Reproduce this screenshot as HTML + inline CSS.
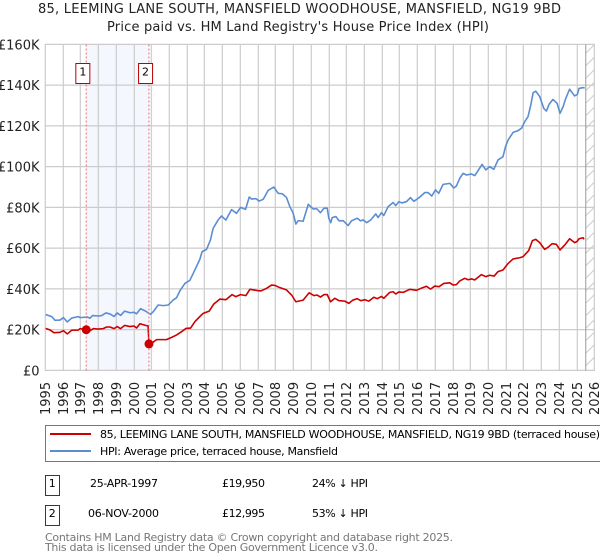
<!DOCTYPE html>
<html>
<head>
<meta charset="utf-8">
<style>
html,body{margin:0;padding:0;background:#fff;width:600px;height:560px;overflow:hidden}
svg{display:block;font-family:"DejaVu Sans","Liberation Sans",sans-serif}
</style>
</head>
<body>
<svg id="chart" xmlns="http://www.w3.org/2000/svg" width="600" height="560" viewBox="0 0 600 560">
  <defs>
    <pattern id="hatch" patternUnits="userSpaceOnUse" x="585.5" y="44.5" width="9" height="12.5">
      <line x1="0" y1="9" x2="9" y2="0" stroke="#cccccc" stroke-width="1"/>
    </pattern>
  </defs>
  <rect x="0" y="0" width="600" height="560" fill="#ffffff"/>
  <text x="38" y="13" font-size="13" fill="#222" textLength="523" lengthAdjust="spacing">85, LEEMING LANE SOUTH, MANSFIELD WOODHOUSE, MANSFIELD, NG19 9BD</text>
  <text x="107" y="31" font-size="13" fill="#222" textLength="382" lengthAdjust="spacing">Price paid vs. HM Land Registry's House Price Index (HPI)</text>
  <g id="layer-shade"></g>
  <g id="layer-grid"></g>
  <g id="layer-lines"></g>
  <g id="layer-markers"></g>
  <g id="layer-labels"></g>

  <g>
    <rect x="45.5" y="425.5" width="560" height="36" fill="#ffffff" stroke="#777777" stroke-width="1"/>
    <line x1="50" y1="434" x2="91" y2="434" stroke="#cc0000" stroke-width="2"/>
    <text x="100" y="438" font-size="11" fill="#000" textLength="500" lengthAdjust="spacing">85, LEEMING LANE SOUTH, MANSFIELD WOODHOUSE, MANSFIELD, NG19 9BD (terraced house)</text>
    <line x1="50" y1="451" x2="91" y2="451" stroke="#5b8dd3" stroke-width="2"/>
    <text x="100" y="455" font-size="11" fill="#000" textLength="238" lengthAdjust="spacing">HPI: Average price, terraced house, Mansfield</text>
  </g>

  <g>
    <rect x="45.5" y="475.5" width="14" height="20" fill="#fff" stroke="#bb0000" stroke-width="1"/>
    <text x="52.3" y="487" font-size="11" text-anchor="middle" fill="#000">1</text>
    <text x="90" y="487" font-size="11" fill="#000" textLength="68" lengthAdjust="spacing">25-APR-1997</text>
    <text x="222" y="487" font-size="11" fill="#000" textLength="43" lengthAdjust="spacing">£19,950</text>
    <text x="312" y="487" font-size="11" fill="#000" textLength="56" lengthAdjust="spacing">24% ↓ HPI</text>
  </g>
  <g>
    <rect x="45.5" y="505.5" width="14" height="20" fill="#fff" stroke="#bb0000" stroke-width="1"/>
    <text x="52.3" y="517" font-size="11" text-anchor="middle" fill="#000">2</text>
    <text x="88" y="517" font-size="11" fill="#000" textLength="71" lengthAdjust="spacing">06-NOV-2000</text>
    <text x="222" y="517" font-size="11" fill="#000" textLength="43" lengthAdjust="spacing">£12,995</text>
    <text x="312" y="517" font-size="11" fill="#000" textLength="56" lengthAdjust="spacing">53% ↓ HPI</text>
  </g>

  <text x="45" y="541" font-size="11" fill="#777777" textLength="408" lengthAdjust="spacing">Contains HM Land Registry data © Crown copyright and database right 2025.</text>
  <text x="45" y="551" font-size="11" fill="#777777" textLength="333" lengthAdjust="spacing">This data is licensed under the Open Government Licence v3.0.</text>
</svg>

<script>
var yTickValues = [0, 20, 40, 60, 80, 100, 120, 140, 160];
var xTickYears = [1995,1996,1997,1998,1999,2000,2001,2002,2003,2004,2005,2006,2007,2008,2009,2010,2011,2012,2013,2014,2015,2016,2017,2018,2019,2020,2021,2022,2023,2024,2025,2026];
var saleDates = [1997.31, 2000.85];
var salePrices = [19.95, 12.995];
var saleLabels = ["1", "2"];
var dataEndYear = 2025.5;

var hpiDates = [1995.02,1995.36,1995.55,1995.83,1996.02,1996.24,1996.49,1996.86,1996.96,1997.37,1997.52,1997.67,1997.99,1998.18,1998.42,1998.65,1998.88,1999.06,1999.25,1999.48,1999.78,2000.0,2000.15,2000.38,2000.66,2000.94,2001.09,2001.37,2001.66,2001.94,2002.22,2002.41,2002.6,2002.88,2003.16,2003.44,2003.72,2003.85,2004.1,2004.32,2004.47,2004.75,2004.94,2005.19,2005.51,2005.79,2006.02,2006.3,2006.51,2006.64,2006.88,2007.07,2007.3,2007.58,2007.9,2008.14,2008.37,2008.61,2008.8,2008.99,2009.14,2009.27,2009.55,2009.84,2010.12,2010.31,2010.53,2010.72,2010.91,2011.0,2011.11,2011.19,2011.4,2011.58,2011.81,2012.09,2012.28,2012.6,2012.79,2012.94,2013.13,2013.35,2013.65,2013.78,2013.97,2014.1,2014.35,2014.63,2014.78,2014.95,2015.12,2015.38,2015.61,2015.8,2016.1,2016.42,2016.6,2016.81,2017.02,2017.2,2017.45,2017.83,2018.05,2018.2,2018.39,2018.58,2018.77,2019.05,2019.24,2019.65,2019.86,2020.08,2020.31,2020.55,2020.83,2020.97,2021.12,2021.4,2021.68,2021.87,2022.06,2022.24,2022.4,2022.53,2022.68,2022.9,2023.13,2023.28,2023.43,2023.65,2023.88,2024.05,2024.22,2024.37,2024.59,2024.87,2025.03,2025.12,2025.35,2025.44];
var hpiValues = [27.4,26.4,24.6,24.7,25.9,23.8,25.7,26.4,25.9,26.2,25.6,26.9,26.7,26.9,28.2,27.7,26.5,28.2,27.0,29.1,28.3,28.5,27.8,30.3,29.1,27.5,28.8,32.1,31.8,32.1,34.6,35.7,39.1,42.7,44.2,49.3,54.5,58.3,59.4,64.0,69.7,73.8,75.8,73.8,78.9,77.1,80.0,79.0,85.1,84.1,84.3,83.1,84.0,88.4,90.0,86.9,86.7,84.9,80.4,77.1,71.8,73.5,73.2,81.5,79.2,79.4,77.4,79.6,79.6,74.7,72.5,75.0,75.5,73.4,73.5,71.1,73.4,74.7,73.4,73.9,72.5,73.7,76.8,75.0,77.4,76.0,80.4,82.4,80.9,82.8,82.2,82.8,84.8,83.0,84.8,87.3,87.3,85.6,88.6,86.9,91.3,91.8,89.5,90.5,94.3,96.7,95.9,96.4,95.6,101.1,98.4,100.0,98.7,103.3,104.9,109.8,113.1,116.8,117.7,118.8,122.1,124.5,130.3,136.3,137.0,134.4,128.6,127.3,130.6,133.0,131.1,126.2,129.4,133.5,138.0,134.7,135.5,138.4,138.8,138.6];

var priceDates = [1995.02,1995.27,1995.49,1995.83,1996.02,1996.24,1996.49,1996.86,1996.96,1997.31,1997.52,1997.71,1997.99,1998.27,1998.46,1998.65,1998.88,1999.06,1999.25,1999.48,1999.78,2000.0,2000.15,2000.34,2000.66,2000.8,2000.85,2001.0,2001.28,2001.84,2002.13,2002.41,2002.69,2002.94,2003.2,2003.44,2003.72,2003.91,2004.25,2004.51,2004.85,2005.19,2005.54,2005.75,2006.02,2006.32,2006.55,2007.02,2007.17,2007.49,2007.77,2007.96,2008.24,2008.61,2008.9,2009.14,2009.55,2009.89,2010.16,2010.34,2010.53,2010.72,2010.91,2011.1,2011.34,2011.58,2011.9,2012.13,2012.34,2012.6,2012.81,2013.03,2013.26,2013.54,2013.73,2013.97,2014.1,2014.44,2014.63,2014.78,2014.95,2015.2,2015.57,2015.95,2016.23,2016.51,2016.74,2016.98,2017.22,2017.49,2017.83,2018.01,2018.2,2018.39,2018.67,2018.86,2019.05,2019.24,2019.61,2019.86,2020.08,2020.33,2020.55,2020.83,2021.12,2021.4,2021.77,2021.96,2022.28,2022.49,2022.68,2022.9,2023.18,2023.37,2023.6,2023.84,2024.05,2024.31,2024.59,2024.87,2025.0,2025.12,2025.35,2025.4];
var priceValues = [20.6,19.8,18.5,18.7,19.5,17.9,19.7,19.8,20.5,19.95,19.5,20.5,20.3,20.5,21.3,21.3,20.5,21.5,20.5,22.1,21.5,21.8,20.8,22.9,22.1,21.8,12.995,13.3,15.1,15.1,16.2,17.4,19.0,20.6,20.8,23.9,26.4,28.0,29.1,32.6,35.0,34.7,37.2,36.2,37.2,36.7,39.8,39.1,39.0,40.3,41.9,41.7,40.6,39.5,37.0,33.7,34.5,38.1,36.7,37.0,36.0,37.2,37.2,33.7,35.4,34.2,34.0,32.9,34.4,35.2,34.2,34.7,34.0,35.9,35.2,36.3,35.4,38.3,38.6,37.5,38.5,38.3,39.8,39.3,40.4,41.3,39.9,41.4,41.1,42.7,43.0,41.9,42.1,43.9,45.2,44.5,44.9,44.4,47.0,46.0,46.7,46.3,48.5,49.3,52.5,54.7,55.3,55.8,58.8,63.7,64.3,62.7,59.4,60.4,62.2,61.9,59.1,61.5,64.6,62.7,63.2,64.6,65.1,64.3];

var NS = "http://www.w3.org/2000/svg";
var plotTop = 44.5, plotBottom = 370.5, plotLeft = 45.3, plotRight = 594.3;
function xScale(d) { return 45.3 + (d - 1995) * 17.72; }
function yScale(v) { return 370.4 - v * (326 / 160); }
function snap(x) { return Math.round(x - 0.3) + 0.3; }
function make(tag, attrs, parent) {
  var el = document.createElementNS(NS, tag);
  for (var k in attrs) el.setAttribute(k, attrs[k]);
  parent.appendChild(el);
  return el;
}
var shade = document.getElementById("layer-shade");
var grid = document.getElementById("layer-grid");
var lines = document.getElementById("layer-lines");
var markers = document.getElementById("layer-markers");
var labels = document.getElementById("layer-labels");

var band = make("rect", {x: xScale(saleDates[0]), y: plotTop, width: xScale(saleDates[1]) - xScale(saleDates[0]), height: plotBottom - plotTop, fill: "#f4f7fe"}, shade);



var hatch = make("rect", {x: xScale(dataEndYear), y: plotTop, width: snap(xScale(2026)) - xScale(dataEndYear), height: plotBottom - plotTop, fill: "url(#hatch)"}, shade);



yTickValues.forEach(function (v) {
  var y = yScale(v);
  var gl = make("line", {x1: plotLeft - 0.5, x2: snap(xScale(2026)) + 0.5, y1: y, y2: y, stroke: "#cccccc", "stroke-width": 1.2}, grid);
  
  
  var t = make("text", {x: 39.5, y: y + 5, "font-size": 13, "text-anchor": "end", fill: "#222"}, labels);
  t.textContent = "£" + v + (v === 0 ? "" : "K");
  
  
});

xTickYears.forEach(function (yr) {
  var x = snap(xScale(yr));
  var gl = make("line", {x1: x, x2: x, y1: plotTop, y2: plotBottom, stroke: "#cccccc", "stroke-width": 1.2}, grid);
  
  
  var t = make("text", {transform: "translate(" + (x + 4.7) + ",415) rotate(-90)", "font-size": 13, fill: "#222"}, labels);
  t.textContent = String(yr);
  
  
});

var endLine = make("line", {x1: xScale(dataEndYear), x2: xScale(dataEndYear), y1: plotTop, y2: plotBottom, stroke: "#999999", "stroke-width": 1}, grid);



function pathFrom(ds, vs) {
  return ds.map(function (d, i) {
    return (i ? "L" : "M") + xScale(d).toFixed(2) + " " + yScale(vs[i]).toFixed(2);
  }).join("");
}
var hpiLine = make("path", {d: pathFrom(hpiDates, hpiValues), fill: "none", stroke: "#5b8dd3", "stroke-width": 1.6, "stroke-linejoin": "round"}, lines);


var priceLine = make("path", {d: pathFrom(priceDates, priceValues), fill: "none", stroke: "#cc0000", "stroke-width": 1.6, "stroke-linejoin": "round"}, lines);



saleDates.forEach(function (d, i) {
  var x = xScale(d);
  var vl = make("line", {x1: x, x2: x, y1: plotTop, y2: plotBottom, stroke: "#f06a6a", "stroke-width": 1, "stroke-dasharray": "2 2"}, markers);
  
  
  var dot = make("circle", {cx: x, cy: yScale(salePrices[i]), r: 4.5, fill: "#cc0000"}, markers);
  
  
  var bx = make("rect", {x: x - 10.4, y: 63.5, width: 14, height: 20, fill: "#ffffff", stroke: "#bb0000", "stroke-width": 1}, markers);
  
  
  var tx = make("text", {x: x - 3.4, y: 75.5, "font-size": 11, "text-anchor": "middle", fill: "#000"}, markers);
  tx.textContent = saleLabels[i];
  
  
});
</script>
</body>
</html>
